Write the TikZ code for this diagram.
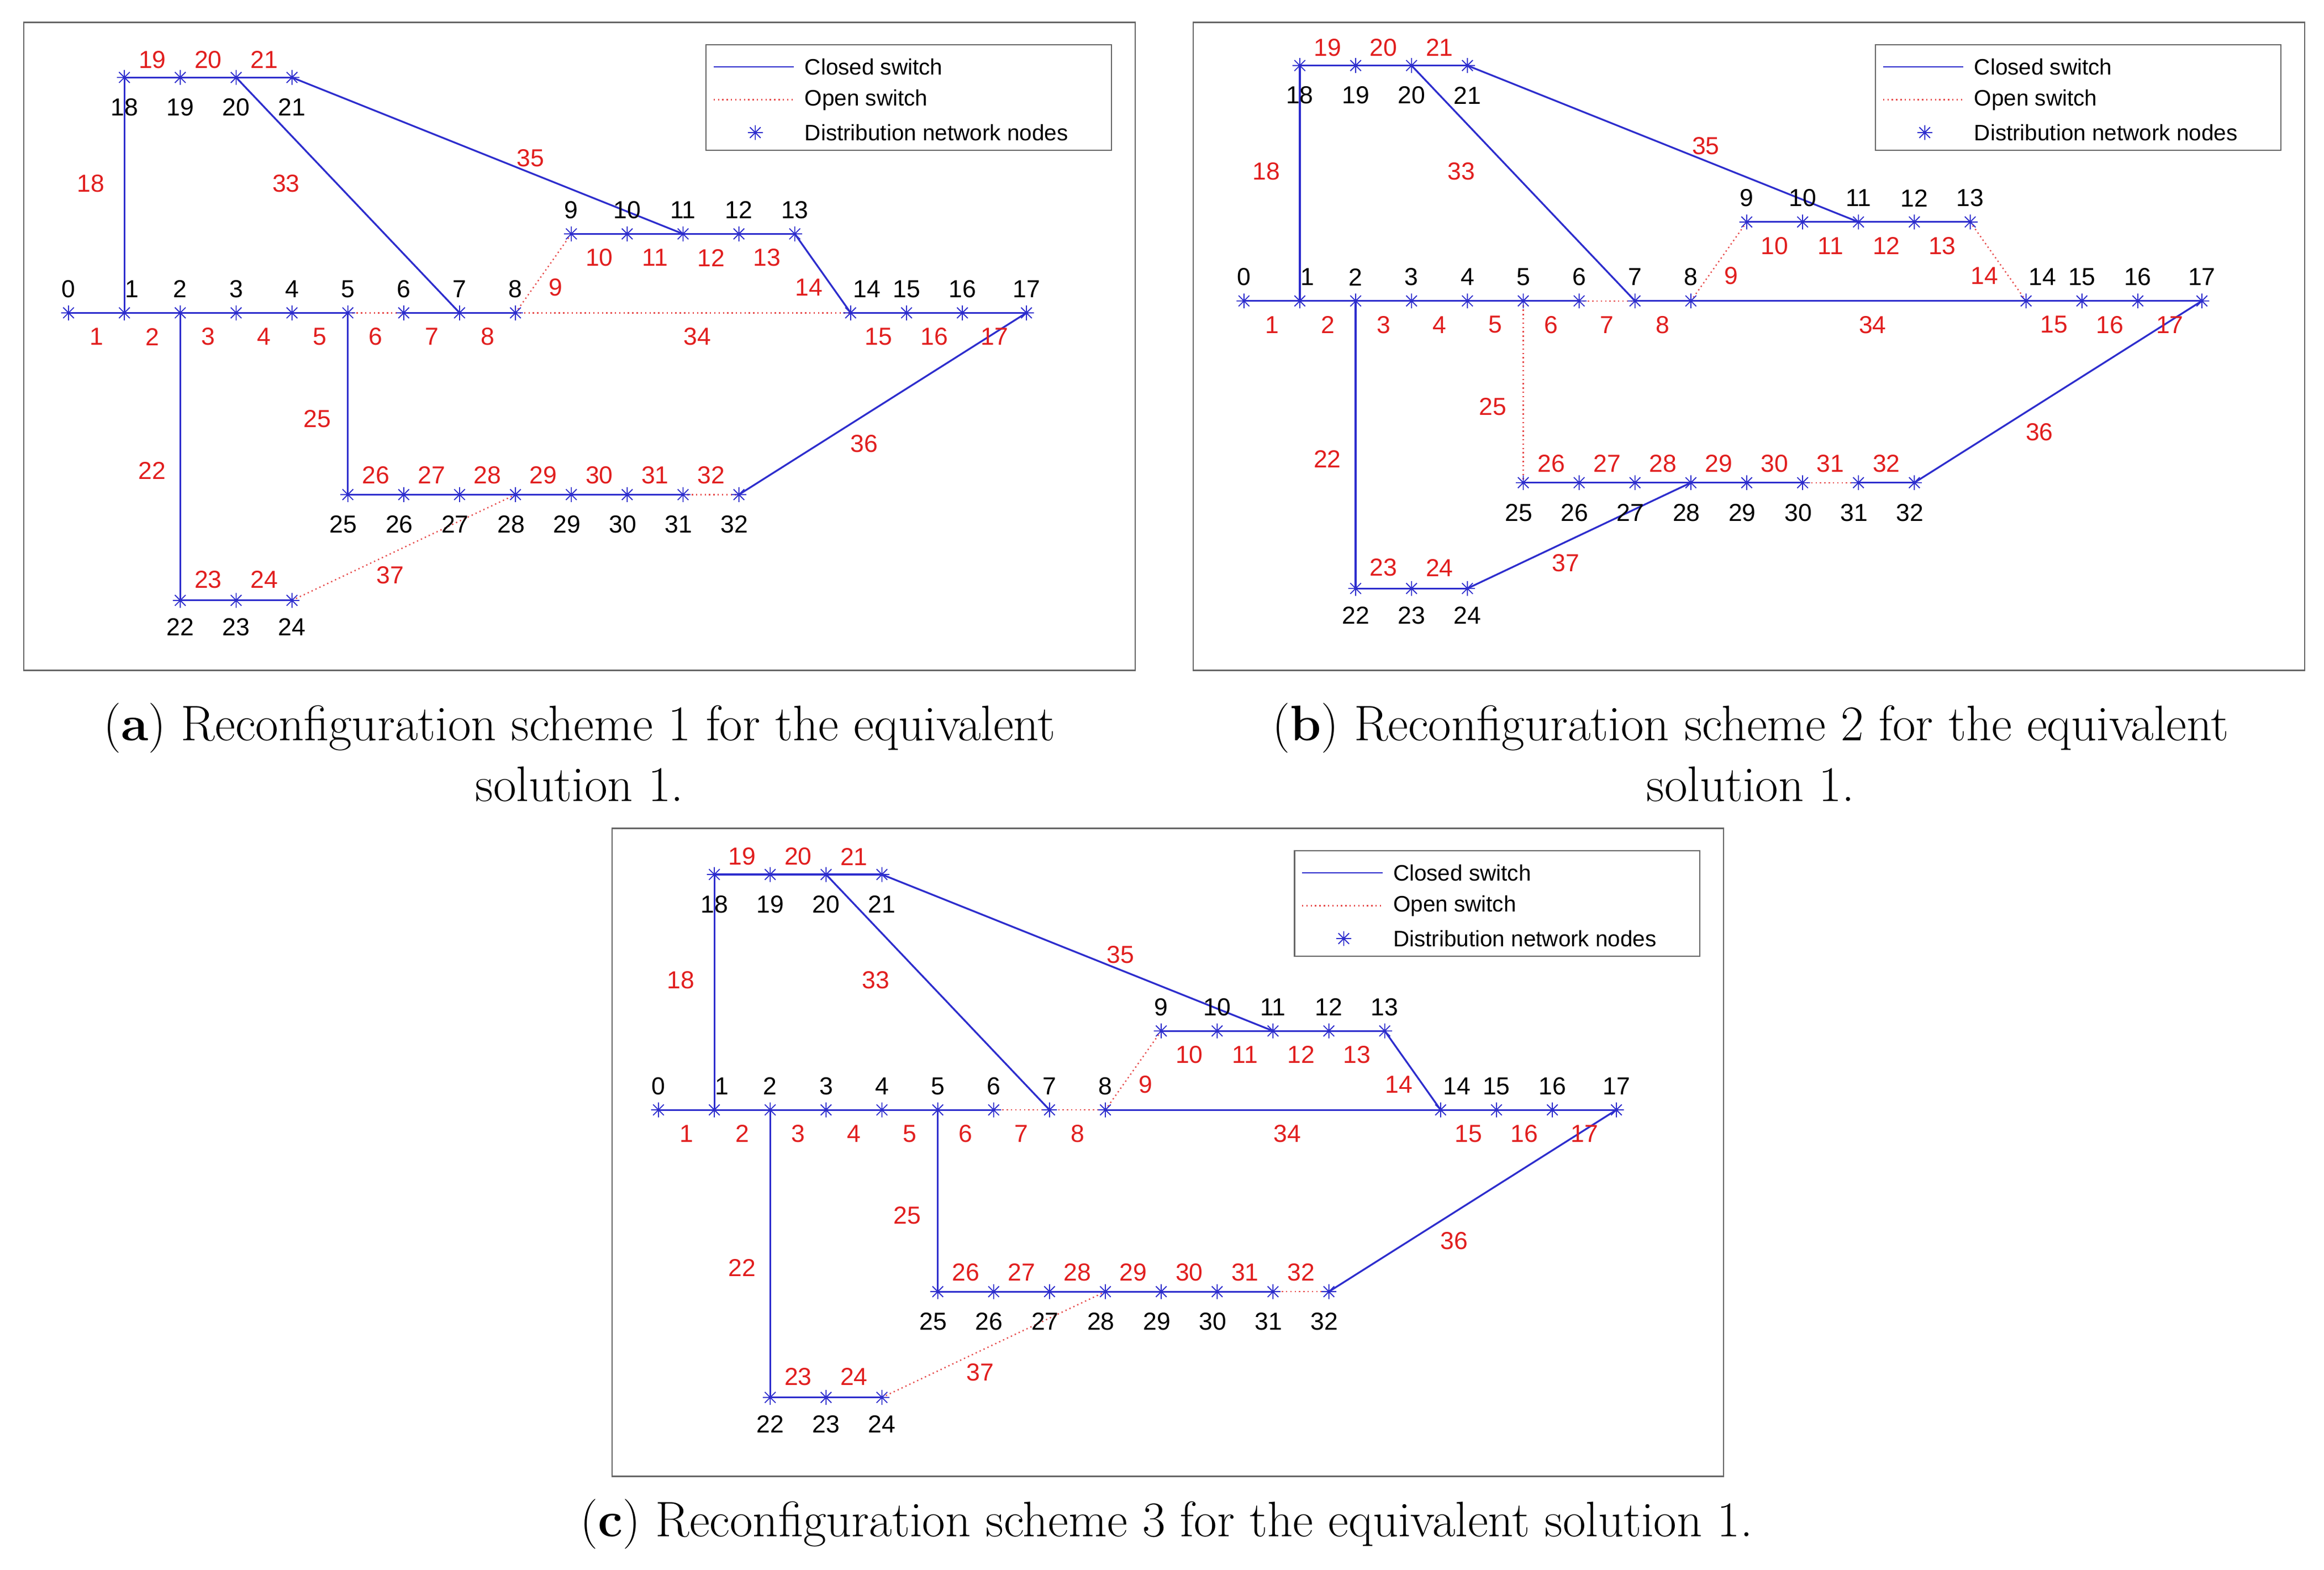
\documentclass[tikz,border=0pt]{standalone}
\usepackage{fontspec}
\newfontfamily\lsans{Liberation Sans}
\usetikzlibrary{calc}
\definecolor{lnb}{RGB}{45,45,205}
\definecolor{lbr}{RGB}{225,30,30}
\tikzset{
  cls/.style={draw=lnb, line width=1.2pt},
  opn/.style={draw=lbr!80, line width=0.9pt, dotted},
  nl/.style={font=\lsans\fontsize{16.5}{16.5}\selectfont, text=black, inner sep=0pt},
  bl/.style={font=\lsans\fontsize{16.5}{16.5}\selectfont, text=lbr, inner sep=0pt},
  lg/.style={font=\lsans\fontsize{15}{15}\selectfont, anchor=west, inner sep=0pt},
  capt/.style={font=\fontsize{33.5}{41}\selectfont, align=center, inner sep=0pt},
  frm/.style={draw=black!60, line width=0.8pt},
  ast/.pic={\draw[lnb, line width=0.7pt] (-5,0)--(5,0) (0,-5)--(0,5) (-3.6,-3.6)--(3.6,3.6) (-3.6,3.6)--(3.6,-3.6);}
}
\newcommand\mynet[5]{%
\begin{scope}[shift={(#2,#3)}]
 \foreach \k in {0,...,16} \coordinate (#1n\k) at ({46+37.5*\k},210);
 \coordinate (#1n17) at (689,210);
 \foreach \k in {18,...,21} \coordinate (#1n\k) at ({46+37.5*(\k-17)},52);
 \foreach \k in {9,...,13} \coordinate (#1n\k) at ({46+37.5*\k},157);
 \foreach \k in {25,...,32} \coordinate (#1n\k) at ({46+37.5*(\k-20)},332);
 \foreach \k in {22,...,24} \coordinate (#1n\k) at ({46+37.5*(\k-20)},403);
 % edges
 \foreach \b/\f/\t in {1/0/1,2/1/2,3/2/3,4/3/4,5/4/5,6/5/6,7/6/7,8/7/8,9/8/9,10/9/10,11/10/11,12/11/12,13/12/13,14/13/14,15/14/15,16/15/16,17/16/17,18/1/18,19/18/19,20/19/20,21/20/21,22/2/22,23/22/23,24/23/24,25/5/25,26/25/26,27/26/27,28/27/28,29/28/29,30/29/30,31/30/31,32/31/32,33/20/7,34/8/14,35/21/11,36/17/32,37/24/28}
   \draw[cls, br\b/.try] (#1n\f) -- (#1n\t);
 \foreach \k in {0,...,32} \pic at (#1n\k) {ast};
 % node labels
 \foreach \k in {0,2,3,4,5,6,7,8,15,16,17} \node[nl] (#1t\k) at ([yshift=16pt]#1n\k) {\k};
 \node[nl] (#1t1) at ([yshift=16pt,xshift=5pt]#1n1) {1};
 \node[nl] (#1t14) at ([yshift=16pt,xshift=11pt]#1n14) {14};
 \foreach \k in {9,...,13} \node[nl] (#1t\k) at ([yshift=16pt]#1n\k) {\k};
 \foreach \k in {18,...,21} \node[nl] (#1t\k) at ([yshift=-20pt]#1n\k) {\k};
 \foreach \k in {25,...,32} \node[nl] (#1t\k) at ([yshift=-20pt,xshift=-3pt]#1n\k) {\k};
 \foreach \k in {22,...,24} \node[nl] (#1t\k) at ([yshift=-18pt]#1n\k) {\k};
 % branch labels
 \foreach \b/\f/\t in {1/0/1,2/1/2,3/2/3,4/3/4,5/4/5,6/5/6,7/6/7,8/7/8,15/14/15,16/15/16,17/16/17}
   \node[bl] (#1l\b) at ([yshift=-16pt]$(#1n\f)!.5!(#1n\t)$) {\b};
 \foreach \b/\f/\t in {10/9/10,11/10/11,12/11/12,13/12/13}
   \node[bl] (#1l\b) at ([yshift=-16pt]$(#1n\f)!.5!(#1n\t)$) {\b};
 \foreach \b/\f/\t in {19/18/19,20/19/20,21/20/21}
   \node[bl] (#1l\b) at ([yshift=12pt]$(#1n\f)!.5!(#1n\t)$) {\b};
 \foreach \b/\f/\t in {26/25/26,27/26/27,28/27/28,29/28/29,30/29/30,31/30/31,32/31/32}
   \node[bl] (#1l\b) at ([yshift=13pt]$(#1n\f)!.5!(#1n\t)$) {\b};
 \foreach \b/\f/\t in {23/22/23,24/23/24}
   \node[bl] (#1l\b) at ([yshift=14pt]$(#1n\f)!.5!(#1n\t)$) {\b};
 \node[bl] (#1l9) at (373,193) {9};
 \node[bl] (#1l14) at (543,193) {14};
 \node[bl] (#1l18) at (61,123) {18};
 \node[bl] (#1l22) at (102,316) {22};
 \node[bl] (#1l25) at (213,281) {25};
 \node[bl] (#1l33) at (192,123) {33};
 \node[bl] (#1l35) at (356,106) {35};
 \node[bl] (#1l34) at (468,226) {34};
 \node[bl] (#1l36) at (580,298) {36};
 \node[bl] (#1l37) at (262,386) {37};
\end{scope}
\begin{scope}[shift={(#2+#5,#3+#4)}]
 % frame and legend
 \draw[frm] (16,15) rectangle (762,450);
 \draw[frm, fill=white] (474,30) rectangle (746,101);
 \coordinate (#1c1) at (479,45); \coordinate (#1c2) at (533,45);
 \coordinate (#1o1) at (479,67); \coordinate (#1o2) at (533,67);
 \draw[cls, line width=0.8pt] (#1c1) -- (#1c2);
 \draw[opn] (#1o1) -- (#1o2);
 \coordinate (#1s) at (507,89); \pic at (#1s) {ast};
 \node[lg] (#1g1) at (540,45) {Closed switch};
 \node[lg] (#1g2) at (540,67) {Open switch};
 \node[lg] (#1g3) at (540,89) {Distribution network nodes};
\end{scope}}
\begin{document}
\begin{tikzpicture}[x=1pt,y=-1pt]
\useasboundingbox[fill=white] (0,0) rectangle (1560,1053.5);
\begin{scope}[br6/.style=opn, br9/.style=opn, br34/.style=opn, br32/.style=opn, br37/.style=opn]
 \mynet{a}{0}{0}{0}{0}
\end{scope}
\begin{scope}[br7/.style=opn, br9/.style=opn, br14/.style=opn, br25/.style=opn, br31/.style=opn]
 \mynet{b}{789}{-8}{8}{-4}
\end{scope}
\begin{scope}[br7/.style=opn, br8/.style=opn, br9/.style=opn, br32/.style=opn, br37/.style=opn]
 \mynet{c}{396}{535}{6}{-1}
\end{scope}
\node[capt] (capa) at (389,505) {(\textbf{a}) Reconfiguration scheme 1 for the equivalent\\solution 1.};
\node[capt] (capb) at (1175,505) {(\textbf{b}) Reconfiguration scheme 2 for the equivalent\\solution 1.};
\node[capt] (capc) at (783,1023) {(\textbf{c}) Reconfiguration scheme 3 for the equivalent solution 1.};
\end{tikzpicture}
\end{document}
